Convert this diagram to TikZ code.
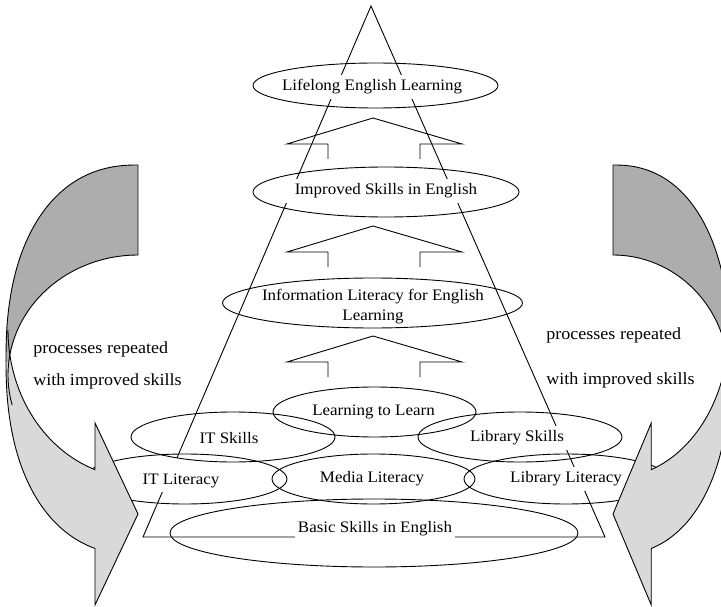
\documentclass[tikz,border=0pt]{standalone}
\usepackage{fontspec}
\setmainfont{Liberation Serif}[FakeStretch=1.06]
\usetikzlibrary{shapes.geometric}
\definecolor{bandfront}{gray}{0.85}
\definecolor{bandback}{gray}{0.68}

% Curved "repeat" arrow: tail at the top (local x = 0), band sweeping round
% to the left and ending in an arrowhead pointing back to x = 0.
% Outer rim: squarish ellipse; back (dark) part: inner rim ellipse;
% front (light) part: its own inner rim ellipse ending at the arrowhead.
\newcommand{\bandarrow}{%
  \fill[bandfront]
    plot[domain=186.68:106, samples=80] ({132*sp(cos(\x))},{360+195*sp(sin(\x))})
    -- (-43,605) -- (0,514) -- (-43,423)
    -- plot[domain=109.3:180, samples=40] ({130*cos(\x)},{330+148*sin(\x)})
    -- cycle;
  \fill[bandback]
    plot[domain=269.99:179.7, samples=80] ({132*sp(cos(\x))},{360+195*sp(sin(\x))})
    -- plot[domain=186.22:270, samples=40] ({130*cos(\x)},{375+120*sin(\x)})
    -- cycle;
  \draw[line join=miter]
    plot[domain=269.99:106, samples=120] ({132*sp(cos(\x))},{360+195*sp(sin(\x))})
    -- (-43,605) -- (0,514) -- (-43,423)
    -- plot[domain=109.3:180, samples=40] ({130*cos(\x)},{330+148*sin(\x)});
  \draw (0,165)
    -- plot[domain=270:165.5, samples=50] ({130*cos(\x)},{375+120*sin(\x)});
}

\begin{document}
\begin{tikzpicture}[x=1pt, y=-1pt, line width=0.9pt,
  declare function={sp(\t)=(\t<0 ? -1 : 1)*pow(abs(\t)+0.000001,0.87);},
  ring/.style={draw, ellipse, inner sep=0pt},
  tag/.style={fill=white, inner xsep=3pt, inner ysep=2pt, minimum height=24pt,
              font=\fontsize{16}{20}\selectfont},
  sidenote/.style={inner sep=0pt, anchor=west, font=\fontsize{17}{20}\selectfont},
  liftarrow/.pic={\draw[line join=miter]
      (-45,41) -- (-45,26) -- (-86,26) -- (0,0) -- (89,26) -- (47,26) -- (47,41);}
]
\useasboundingbox (0,0) rectangle (721,607);
\begin{scope}
\clip (0,0) rectangle (721,607);

% pyramid outline
\coordinate (apex) at (371,6);
\coordinate (baseL) at (143,537);
\coordinate (baseR) at (605,537);
\draw[line join=miter] (apex) -- (baseL) -- (baseR) -- cycle;

% open block arrows between the levels
\pic (liftA) at (373,118) {liftarrow};
\pic (liftB) at (373,226) {liftarrow};
\pic (liftC) at (373,336) {liftarrow};

% level texts (white boxes interrupt the pyramid lines)
\node[tag] (life) at (372,87) {Lifelong English Learning};
\node[tag, inner xsep=10pt] (improved) at (386,191) {Improved Skills in English};
\node[tag, fill=none, align=center] (info) at (373,307) {Information Literacy for English\\Learning};
\node[tag] (ltl) at (373.5,412) {Learning to Learn};
\node[tag] (itskills) at (229,438) {IT Skills};
\node[tag] (libskills) at (517,438) {Library Skills};
\node[tag, anchor=base, minimum height=0pt, text height=24.5pt, text depth=5.5pt] (itlit) at (181,484.5) {IT Literacy};
\node[tag] (media) at (372,479) {Media Literacy};
\node[tag] (liblit) at (566,479) {Library Literacy};
\node[tag] (basic) at (375,529) {Basic Skills in English};

% ellipse outlines
\node[ring, minimum width=245pt, minimum height=45pt] (lifeRing) at (375.5,85.5) {};
\node[ring, minimum width=266pt, minimum height=50pt] (improvedRing) at (386,192) {};
\node[ring, minimum width=300pt, minimum height=50pt] (infoRing) at (372.5,303) {};
\node[ring, minimum width=203pt, minimum height=50pt] (ltlRing) at (374.5,412) {};
\node[ring, minimum width=204pt, minimum height=50pt] (itskillsRing) at (233,437) {};
\node[ring, minimum width=204pt, minimum height=50pt] (libskillsRing) at (520,437) {};
\node[ring, minimum width=204pt, minimum height=50pt] (itlitRing) at (185,479) {};
\node[ring, minimum width=203pt, minimum height=50pt] (mediaRing) at (373.5,479) {};
\node[ring, minimum width=204pt, minimum height=50pt] (liblitRing) at (566,479) {};
\node[ring, minimum width=408pt, minimum height=68pt] (basicRing) at (374,533) {};

% curved arrows on both sides
\begin{scope}[shift={(138,0)}]
  \bandarrow
\end{scope}
\begin{scope}[shift={(613,0)}, xscale=-0.89]
  \bandarrow
\end{scope}

% side captions
\node[sidenote] (loopL1) at (33,349) {processes repeated};
\node[sidenote] (loopL2) at (33,381) {with improved skills};
\node[sidenote] (loopR1) at (546,335) {processes repeated};
\node[sidenote] (loopR2) at (546,380) {with improved skills};
\end{scope}
\end{tikzpicture}
\end{document}
